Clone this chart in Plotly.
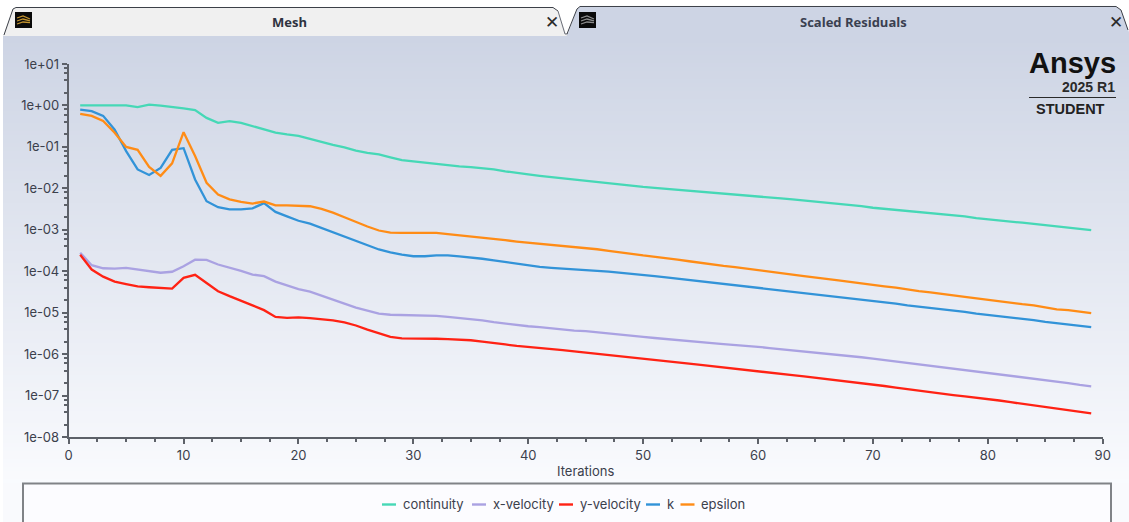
import plotly.graph_objects as go

W, H = 1129, 522

iterations = list(range(1, 90))
continuity = [1.0, 1.0, 1.0, 1.0, 1.0, 0.91, 1.05, 0.99, 0.93, 0.85, 0.77, 0.50, 0.38, 0.42, 0.38, 0.32, 0.26, 0.22, 0.20, 0.185,
    0.157, 0.13, 0.112, 0.097, 0.081, 0.072, 0.066, 0.056, 0.048, 0.0445, 0.0415, 0.0384, 0.0355, 0.034, 0.0324, 0.0305, 0.0286, 0.0257, 0.0232, 0.0216,
    0.02, 0.0186, 0.0173, 0.0161, 0.0149, 0.0141, 0.0132, 0.0124, 0.0115, 0.0108, 0.0103, 0.0098, 0.0093, 0.0088, 0.0083, 0.0079, 0.0075, 0.0071, 0.0067, 0.0064,
    0.0060, 0.0057, 0.0054, 0.0051, 0.0048, 0.0045, 0.0042, 0.0039, 0.0037, 0.0034, 0.0032, 0.0030, 0.0028, 0.0027, 0.0025, 0.0024, 0.0022, 0.0021, 0.0019, 0.0018,
    0.0017, 0.0016, 0.00148, 0.00138, 0.00130, 0.00120, 0.00112, 0.00105, 0.00098]
x_velocity = [2.8e-4, 1.4e-4, 1.18e-4, 1.15e-4, 1.2e-4, 1.1e-4, 1.0e-4, 9.2e-5, 9.7e-5, 1.32e-4, 1.9e-4, 1.87e-4, 1.45e-4, 1.23e-4, 1.02e-4, 8.3e-5, 7.6e-5, 5.6e-5, 4.5e-5, 3.7e-5,
    3.2e-5, 2.6e-5, 2.1e-5, 1.66e-5, 1.33e-5, 1.11e-5, 9.5e-6, 8.9e-6, 8.8e-6, 8.8e-6, 8.8e-6, 8.4e-6, 7.9e-6, 7.5e-6, 7.0e-6, 6.5e-6, 5.9e-6, 5.4e-6, 5.0e-6, 4.7e-6,
    4.5e-6, 4.2e-6, 3.9e-6, 3.7e-6, 3.6e-6, 3.4e-6, 3.2e-6, 3.0e-6, 2.8e-6, 2.6e-6, 2.45e-6, 2.3e-6, 2.2e-6, 2.05e-6, 1.95e-6, 1.85e-6, 1.75e-6, 1.68e-6, 1.6e-6, 1.5e-6,
    1.4e-6, 1.32e-6, 1.24e-6, 1.16e-6, 1.08e-6, 1.02e-6, 9.5e-7, 8.9e-7, 8.4e-7, 7.8e-7, 7.2e-7, 6.6e-7, 6.1e-7, 5.7e-7, 5.3e-7, 4.9e-7, 4.5e-7, 4.2e-7, 3.9e-7, 3.6e-7,
    3.3e-7, 3.0e-7, 2.8e-7, 2.6e-7, 2.35e-7, 2.15e-7, 2.0e-7, 1.8e-7, 1.66e-7]
y_velocity = [2.5e-4, 1.1e-4, 7.4e-5, 5.6e-5, 4.9e-5, 4.3e-5, 4.1e-5, 3.9e-5, 3.8e-5, 6.9e-5, 8.2e-5, 5.2e-5, 3.3e-5, 2.5e-5, 1.9e-5, 1.5e-5, 1.15e-5, 7.9e-6, 7.5e-6, 7.7e-6,
    7.4e-6, 7.0e-6, 6.5e-6, 5.8e-6, 4.9e-6, 3.9e-6, 3.2e-6, 2.6e-6, 2.4e-6, 2.4e-6, 2.4e-6, 2.35e-6, 2.3e-6, 2.25e-6, 2.16e-6, 2.0e-6, 1.88e-6, 1.71e-6, 1.58e-6, 1.5e-6,
    1.39e-6, 1.32e-6, 1.25e-6, 1.16e-6, 1.08e-6, 1.03e-6, 9.6e-7, 9.0e-7, 8.4e-7, 7.8e-7, 7.3e-7, 6.8e-7, 6.3e-7, 5.9e-7, 5.5e-7, 5.1e-7, 4.7e-7, 4.4e-7, 4.1e-7, 3.8e-7,
    3.6e-7, 3.3e-7, 3.1e-7, 2.9e-7, 2.7e-7, 2.5e-7, 2.3e-7, 2.15e-7, 2.0e-7, 1.85e-7, 1.7e-7, 1.55e-7, 1.42e-7, 1.3e-7, 1.2e-7, 1.12e-7, 1.03e-7, 9.6e-8, 9.0e-8, 8.3e-8,
    7.6e-8, 6.9e-8, 6.3e-8, 5.8e-8, 5.3e-8, 4.8e-8, 4.4e-8, 4.0e-8, 3.7e-8]
k = [0.79, 0.73, 0.56, 0.26, 0.079, 0.0286, 0.021, 0.031, 0.085, 0.093, 0.0164, 0.0049, 0.0035, 0.0031, 0.0031, 0.0033, 0.0044, 0.0027, 0.0021, 0.00165,
    0.0014, 0.0011, 0.00085, 0.00068, 0.00054, 0.00042, 0.000335, 0.000284, 0.00025, 0.00023, 0.00023, 0.00024, 0.00024, 0.000227, 0.000215, 0.0002, 0.000182, 0.000166, 0.000151, 0.000138,
    0.000128, 0.000121, 0.000115, 0.00011, 0.000106, 1.02e-4, 9.8e-5, 9.1e-5, 8.7e-5, 8.1e-5, 7.6e-5, 7.1e-5, 6.6e-5, 6.2e-5, 5.8e-5, 5.4e-5, 5.0e-5, 4.7e-5, 4.4e-5, 4.1e-5,
    3.8e-5, 3.5e-5, 3.2e-5, 3.0e-5, 2.8e-5, 2.6e-5, 2.4e-5, 2.2e-5, 2.1e-5, 1.9e-5, 1.8e-5, 1.66e-5, 1.5e-5, 1.4e-5, 1.3e-5, 1.2e-5, 1.12e-5, 1.05e-5, 9.5e-6, 8.9e-6,
    8.3e-6, 7.6e-6, 7.1e-6, 6.6e-6, 6.0e-6, 5.6e-6, 5.2e-6, 4.8e-6, 4.5e-6]
epsilon = [0.63, 0.56, 0.42, 0.22, 0.10, 0.085, 0.033, 0.020, 0.040, 0.227, 0.060, 0.0136, 0.0071, 0.0054, 0.0047, 0.0043, 0.0048, 0.0039, 0.0039, 0.0038,
    0.0037, 0.0032, 0.0026, 0.0020, 0.00153, 0.0012, 0.00096, 0.00085, 0.00084, 0.00085, 0.00085, 0.00084, 0.00079, 0.00074, 0.0007, 0.00065, 0.00062, 0.00056, 0.00052, 0.00049,
    0.00046, 0.00043, 0.0004, 0.00038, 0.00036, 3.39e-4, 3.09e-4, 2.88e-4, 2.63e-4, 2.40e-4, 2.24e-4, 2.04e-4, 1.91e-4, 1.74e-4, 1.58e-4, 1.48e-4, 1.35e-4, 1.26e-4, 1.15e-4, 1.07e-4,
    9.8e-5, 8.9e-5, 8.3e-5, 7.6e-5, 7.1e-5, 6.5e-5, 6.0e-5, 5.5e-5, 5.0e-5, 4.7e-5, 4.3e-5, 4.0e-5, 3.6e-5, 3.3e-5, 3.1e-5, 2.8e-5, 2.6e-5, 2.4e-5, 2.2e-5, 2.0e-5,
    1.9e-5, 1.7e-5, 1.6e-5, 1.5e-5, 1.35e-5, 1.2e-5, 1.15e-5, 1.05e-5, 9.8e-6]

series_names = ["continuity", "x-velocity", "y-velocity", "k", "epsilon"]
series_colors = ["#46d8b6", "#aaa2e2", "#ff2214", "#3293d8", "#ff8c16"]
series_values = [continuity, x_velocity, y_velocity, k, epsilon]

y_tick_values = [1e1, 1e0, 1e-1, 1e-2, 1e-3, 1e-4, 1e-5, 1e-6, 1e-7, 1e-8]
y_tick_labels = ["1e+01", "1e+00", "1e-01", "1e-02", "1e-03", "1e-04", "1e-05", "1e-06", "1e-07", "1e-08"]
y_minor_values = [m * d for d in y_tick_values[1:] for m in (2, 4, 6, 8)]

legend_swatch_left = [382, 472, 559, 646, 680.5]

TEXT = "#3b404c"
FONT = "Inter, Noto Sans, sans-serif"


def px(x):
    return x / W


def py(y):
    return 1 - y / H


def path(points, close=True):
    s = "M " + " L ".join(f"{px(x):.5f},{py(y):.5f}" for x, y in points)
    return s + (" Z" if close else "")


shapes = []


def add_shape(points, fill=None, line=None, lw=1.0, close=True):
    shapes.append(dict(type="path", xref="paper", yref="paper", path=path(points, close),
                       fillcolor=fill if fill else "rgba(0,0,0,0)",
                       line=dict(color=line if line else "rgba(0,0,0,0)", width=lw),
                       layer="below"))


# panel gradient, top to bottom
top, bottom = (205, 212, 228), (250, 251, 254)
y0, y1, step = 35, 484, 4
for yy in range(y0, y1, step):
    t = (yy - y0) / (y1 - y0)
    c = tuple(round(a + (b - a) * t) for a, b in zip(top, bottom))
    add_shape([(3, yy), (W, yy), (W, yy + step + 1), (3, yy + step + 1)], fill=f"rgb{c}")
add_shape([(3, 483), (W, 483), (W, H), (3, H)], fill="rgb(249,250,253)")

# tabs
add_shape([(3, 36), (13, 9), (16, 8), (553, 8), (558, 12), (567, 36)], fill="#f0f0f0")
add_shape([(4, 35), (13, 9), (16, 7.5), (553, 7.5), (558, 11)], line="#3c4048", close=False)
add_shape([(558, 11), (565, 34), (569, 34)], line="#6a6e78", close=False)
add_shape([(567, 36), (577, 9), (580, 7), (1116, 7), (1121, 10), (1129, 32), (1129, 40), (567, 40)], fill="#cdd4e4")
add_shape([(567, 34), (577, 9), (580, 6.5), (1116, 6.5), (1121, 10), (1128, 30)], line="#3c4048", close=False)

# tab icons: black square with stacked swoosh
for left, swoosh in ((15, "#c4942e"), (579, "#8e8e8e")):
    add_shape([(left, 12), (left + 17, 12), (left + 17, 28), (left, 28)], fill="#0a0a0a")
    for dy in (0, 3, 6):
        add_shape([(left + 2, 18 + dy), (left + 8, 16 + dy), (left + 15, 19 + dy * 0.6)],
                  line=swoosh, lw=1.3, close=False)

# legend frame
add_shape([(23, H + 4), (23, 483.5), (1111, 483.5), (1111, H + 4)], fill="#fcfcff", line="#808387", lw=2)

# legend swatches
for left, color in zip(legend_swatch_left, series_colors):
    add_shape([(left, 504.5), (left + 14, 504.5)], line=color, lw=2.4, close=False)

# logo rule
add_shape([(1029, 97.5), (1116, 97.5)], line="#2a2a2a", lw=1.2, close=False)


def label(text, x, y, size, weight="normal", color=TEXT, anchor="center", family=FONT):
    return dict(text=f"<b>{text}</b>" if weight == "bold" else text, x=px(x), y=py(y), xref="paper", yref="paper",
                showarrow=False, xanchor=anchor, yanchor="middle",
                font=dict(size=size, color=color, family=family))


annotations = [
    label("Mesh", 289, 21.5, 13, "bold", "#2e3340", family="Open Sans"),
    label("Scaled Residuals", 853, 21.5, 13, "bold", "#3a4050", family="Open Sans"),
    label("✕", 552, 21.5, 17, "bold", "#2a2a2a", family="DejaVu Sans"),
    label("✕", 1116, 21.5, 17, "bold", "#2a2a2a", family="DejaVu Sans"),
    label("Ansys", 1118, 63, 29, "bold", "#111111", anchor="right", family="Liberation Sans"),
    label("2025 R1", 1117, 87, 14, "bold", "#2a2a2a", anchor="right", family="Liberation Sans"),
    label("STUDENT", 1107, 109, 14.5, "bold", "#222222", anchor="right", family="Liberation Sans"),
]
for left, name in zip(legend_swatch_left, series_names):
    annotations.append(label(name, left + 19, 504, 13, anchor="left"))

fig = go.Figure()
for name, color, values in zip(series_names, series_colors, series_values):
    fig.add_trace(go.Scatter(x=iterations, y=values, name=name, mode="lines", showlegend=False,
                             line=dict(color=color, width=2.3)))

axis_color = "#5d6169"
fig.update_layout(
    width=W, height=H, margin=dict(l=0, r=0, t=0, b=0, autoexpand=False), autosize=False,
    paper_bgcolor="white", plot_bgcolor="rgba(0,0,0,0)",
    font=dict(family=FONT, size=13, color=TEXT),
    shapes=shapes, annotations=annotations, showlegend=False,
    xaxis=dict(domain=[px(68.7), px(1102.7)], range=[0, 90], dtick=10, tick0=0, showgrid=False, zeroline=False,
               showline=True, linecolor=axis_color, linewidth=2, ticks="outside", ticklen=5, tickwidth=1.5,
               tickcolor=axis_color, tickfont=dict(size=13, color=TEXT),
               minor=dict(dtick=2.5, ticks="outside", ticklen=3, tickwidth=1.5, tickcolor=axis_color, showgrid=False),
               title=dict(text="Iterations", font=dict(size=13, color=TEXT), standoff=5)),
    yaxis=dict(domain=[py(437), py(64)], type="log", range=[-8, 1], tickmode="array",
               tickvals=y_tick_values, ticktext=y_tick_labels, showgrid=False, zeroline=False,
               showline=True, linecolor=axis_color, linewidth=2, ticks="outside", ticklen=5, tickwidth=1.5,
               tickcolor=axis_color, tickfont=dict(size=13, color=TEXT),
               minor=dict(tickmode="array", tickvals=y_minor_values, ticks="outside", ticklen=3, tickwidth=1.5,
                          tickcolor=axis_color, showgrid=False)),
    hovermode=False,
)

fig.write_html("out.html", config=dict(displayModeBar=False),
               post_script="document.body.style.margin='0';document.body.style.background='white';")
